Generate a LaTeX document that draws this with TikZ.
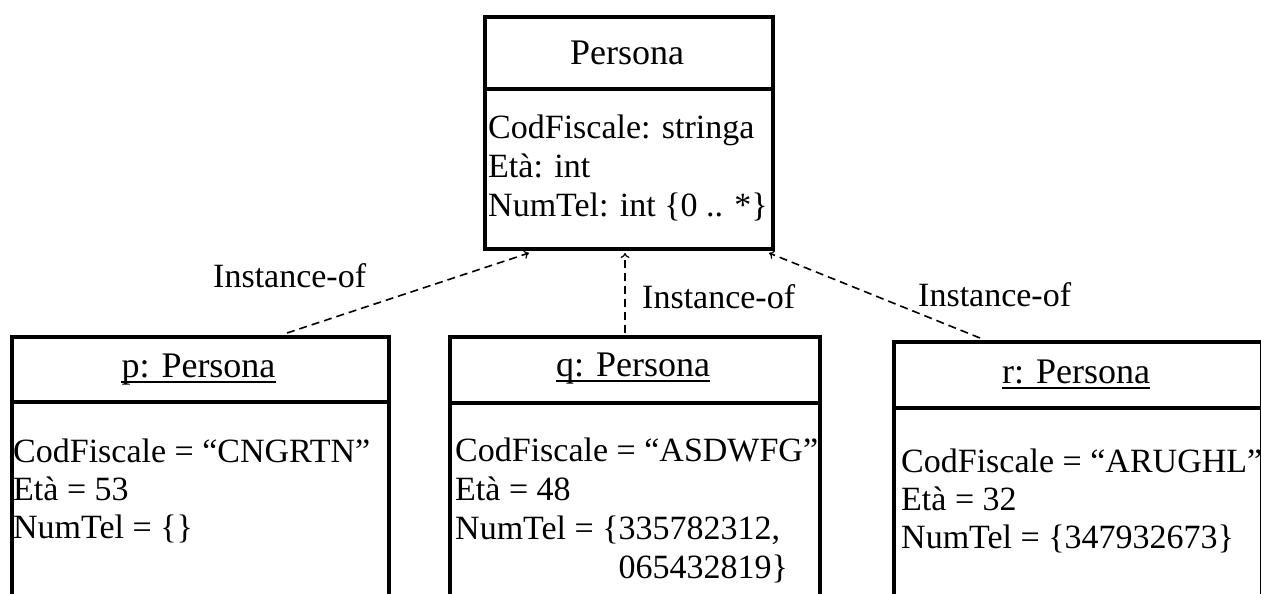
\documentclass[tikz,border=0pt]{standalone}
\usepackage{fontspec}
\setmainfont{Liberation Serif}
\usetikzlibrary{arrows.meta}
\tikzset{
  umlbox/.style={draw, line width=4pt, rectangle, inner sep=0pt, anchor=north west},
  divider/.style={line width=4pt},
  bodytxt/.style={anchor=base west, inner sep=0pt, font=\fontsize{34}{39}\selectfont},
  titletxt/.style={anchor=base, inner sep=0pt, font=\fontsize{36}{40}\selectfont},
  lbl/.style={anchor=base west, inner sep=0pt, font=\fontsize{34}{39}\selectfont},
  inst/.style={line width=1.6pt, dash pattern=on 8pt off 5pt, -{To[length=5pt,width=9pt,line width=1.2pt]}},
  uline/.style={line width=1.8pt}
}
\begin{document}
\begin{tikzpicture}[x=1pt,y=-1pt]
\useasboundingbox (0,0) rectangle (1261,594);
% class box
\node[umlbox, minimum width=288pt, minimum height=232pt] (P) at (483,15) {};
\draw[divider] (483,89) -- (771,89);
\node[titletxt] (Pt) at (627,65) {Persona};
\node[bodytxt] (P1) at (488,138) {CodFiscale: stringa};
\node[bodytxt] (P2) at (488,177) {Età: int};
\node[bodytxt] (P3) at (488,216) {NumTel: int \{0 .. *\}};
% object p
\node[umlbox, minimum width=377pt, minimum height=300pt] (p) at (10,335) {};
\draw[divider] (10,402) -- (391,402);
\node[titletxt] (pt) at (198.5,377) {p: Persona};
\draw[uline] ([yshift=-5pt]pt.base west) -- ([yshift=-5pt]pt.base east);
\node[bodytxt] (p1) at (13,462) {CodFiscale = “CNGRTN”};
\node[bodytxt] (p2) at (13,500) {Età = 53};
\node[bodytxt] (p3) at (13,538) {NumTel = \{\}};
% object q
\node[umlbox, minimum width=370pt, minimum height=300pt] (q) at (448,335) {};
\draw[divider] (448,403) -- (818,403);
\node[titletxt] (qt) at (633,376) {q: Persona};
\draw[uline] ([yshift=-5pt]qt.base west) -- ([yshift=-5pt]qt.base east);
\node[bodytxt] (q1) at (455,461) {CodFiscale = “ASDWFG”};
\node[bodytxt] (q2) at (455,500) {Età = 48};
\node[bodytxt] (q3) at (455,539) {NumTel = \{335782312,};
\node[bodytxt] (q4) at (455,578) {\phantom{NumTel = \{}065432819\}};
% object r
\node[umlbox, minimum width=368pt, minimum height=300pt] (r) at (892,340) {};
\draw[divider] (892,408) -- (1260,408);
\node[titletxt] (rt) at (1076,383) {r: Persona};
\draw[uline] ([yshift=-5pt]rt.base west) -- ([yshift=-5pt]rt.base east);
\node[bodytxt] (r1) at (901,472) {CodFiscale = “ARUGHL”};
\node[bodytxt] (r2) at (901,510) {Età = 32};
\node[bodytxt] (r3) at (901,548) {NumTel = \{347932673\}};
% connectors
\draw[inst] ([xshift=86.5pt,yshift=2pt]p.north) -- ([xshift=-100pt,yshift=-2pt]P.south);
\draw[inst] ([xshift=-10pt,yshift=2pt]q.north) -- ([xshift=-4pt,yshift=-2pt]P.south);
\draw[inst] ([xshift=-98pt,yshift=2pt]r.north) -- ([xshift=140pt,yshift=-2pt]P.south);
% labels
\node[lbl] (l1) at (213,287) {Instance-of};
\node[lbl] (l2) at (642,308) {Instance-of};
\node[lbl] (l3) at (918,306) {Instance-of};
\end{tikzpicture}
\end{document}
